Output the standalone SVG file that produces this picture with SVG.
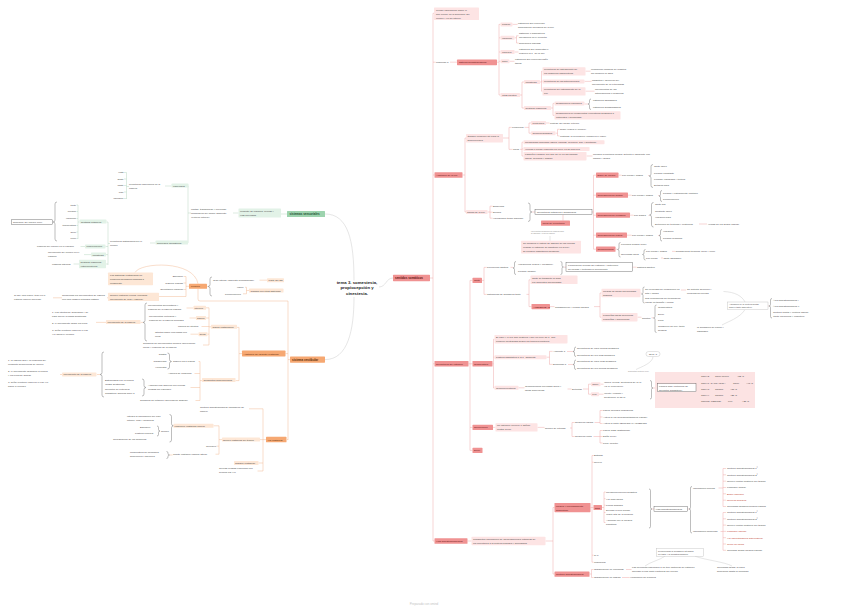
<svg xmlns="http://www.w3.org/2000/svg" width="848" height="610" viewBox="0 0 848 610">
<style>
text{font-family:"Liberation Sans",Arial,sans-serif;font-size:2.5px;fill:#444}
.w{font-weight:bold}
.L{font-size:3px;font-weight:bold}
.T{font-size:4.3px;font-weight:bold;fill:#222;text-anchor:middle}
.s{font-size:2.2px}
.xs{font-size:1.6px;fill:#888}
.m{text-anchor:middle}
.e{text-anchor:end}
.rb{fill:#f09292}
.rl{fill:#fde4e4}
.ob{fill:#f6a872}
.ol{fill:#fde7d6}
.gb{fill:#9dd3ae}
.gl{fill:#e2f2e7}
.bx{fill:#fff;stroke:#555;stroke-width:.4}
.bg{fill:#fff;stroke:#bbb;stroke-width:.4}
.tr{fill:#5c1010}
.to{fill:#5a2a08}
.tg{fill:#1a4d2e}
.rd{fill:#c0392b}
#conn path{fill:none;stroke-width:.45}
.cr{stroke:#eda3a3}
.co{stroke:#f2b68c}
.cg{stroke:#b2d5bd}
.ck{stroke:#c6c6c6}
.cd{stroke:#6d6d6d}
</style>
<rect width="848" height="610" fill="#fff"/>

<g id="conn">
<path class="ck" d="M325,214 C348,214 354,240 354,280.5"/>
<path class="ck" d="M325,359.6 C348,359.6 354,330 354,297"/>
<path class="ck" d="M379,287 C386,287 386,278 393,278"/>
<path class="cg" d="M287,214 H281 M238.5,213 H233 M191,213 H188 M188,186 V243 M188,186 H188.5 M171.5,186 H165 M129,186.5 H126.5 M126.5,172.5 V199 M124,172.5 H126.5 M124,179 H126.5 M124,185.5 H126.5 M124,192 H126.5 M124,198.5 H126.5 M155.5,243 H150 M110,243.5 H108 M108,222 V265 M106.5,222 H108 M105.5,246.5 H108 M106,254.6 H108 M106,264 H108 M78,205 V239 M79.5,222 H78 M76.5,205 H78 M76.5,211.5 H78 M76.5,218.5 H78 M76.5,225.5 H78 M76.5,232 H78 M76.5,238.5 H78 M80.5,246.5 H85 M84,254.6 H91 M73.5,264 H79"/>
<path class="cd" d="M57,202 Q55,202 55,204 V220 Q55,222 53,222 Q55,222 55,224 V239 Q55,241 57,241"/>
<path class="co" d="M290,359.6 H288 M288,301 V440 M285.5,353.6 H288 M287,439.6 H288 M288,301 H200 Q198,301 198,299 V288.8 M189,286.3 H186 M186,276.5 V296.5 H159 M183.5,276.5 H186 M183.5,283 H186 M183.5,289.5 H186 M207,286.5 H208 M259.5,280.2 H267 M245,287.3 H246.5 M243,293.8 H246.5 M246.5,287.3 V293.8 M246.5,290.5 H249 M107,297.8 H108 M53,297.8 H62"/>
<path class="co" d="M135,272.6 C140,262 194,260 198,283.8"/>
<path class="co" d="M242,353.6 H239 M239,327.4 V380.6 M237,327.4 H239 M235.5,380.6 H239 M211,326.8 H209 M209,307.8 V345 M206,307.8 H209 M206,318 H209 M201.5,326.5 H209 M207.5,334.2 H209 M203,345 H209 M186.5,308 H193.5 M189.5,318 H196 M190.5,334.2 H198.5 M143,322.4 H140.5 M96,322.4 H106"/>
<path class="co" d="M202,380.6 H200 M200,361.5 V400.5 M198.5,361.5 H200 M194.5,373.5 H200 M190.5,387.5 H200 M195.5,400.5 H200 M100,374.5 H97 M60,374.5 H62"/>
<path class="co" d="M266,439.6 H263 M263,408.8 V471 M249,408.8 H263 M259.5,439.6 H263 M258.5,463 H263 M257.5,471 H263 M222,439.6 H219 M219,425.8 V454.2 M213.5,425.8 H219 M216.5,446.2 H219 M215.5,454.2 H219 M169.5,455 H172.5"/>
<path class="cd" d="M212,277 Q210,277 210,279 V284.5 Q210,286.5 208,286.5 Q210,286.5 210,288.5 V294 Q210,296 212,296"/>
<path class="cd" d="M147,303 Q145,303 145,305 V320.4 Q145,322.4 143,322.4 Q145,322.4 145,324.4 V339 Q145,341 147,341"/>
<path class="cd" d="M167.5,353 Q169.5,353 169.5,355 V359.5 Q169.5,361.5 171.5,361.5 Q169.5,361.5 169.5,363.5 V367 Q169.5,369 167.5,369"/>
<path class="cd" d="M142,379 Q144,379 144,381 V385.5 Q144,387.5 146,387.5 Q144,387.5 144,389.5 V394 Q144,396 142,396"/>
<path class="cd" d="M104,352 Q102,352 102,354 V372.5 Q102,374.5 100,374.5 Q102,374.5 102,376.5 V395 Q102,397 104,397"/>
<path class="cd" d="M169.5,414.5 Q171.5,414.5 171.5,416.5 V423.8 Q171.5,425.8 173.5,425.8 Q171.5,425.8 171.5,427.8 V440 Q171.5,442 169.5,442"/>
<path class="cd" d="M157,426 Q158.5,426 158.5,427.5 V429.5 Q158.5,431 160,431 Q158.5,431 158.5,432.5 V434.5 Q158.5,436 157,436"/>
<path class="cd" d="M166.5,451.5 Q168,451.5 168,453 V453.5 Q168,455 169.5,455 Q168,455 168,456.5 V457 Q168,458.5 166.5,458.5"/>
<path class="cr" d="M430,278 H433 M433,13.3 V541 M433,13.3 H434 M433,62.2 H435.5 M433,175 H434.5 M433,363.8 H434.5 M433,541 H434.5 M450,62.2 H457 M497,62.2 H499 M499,24.2 V95 M499,24.4 H500.5 M499,37.8 H500.5 M499,52 H500.5 M499,61.3 H500.5 M499,95 H500.5 M512.5,24.4 H517.5 M514.5,37.8 H516.5 M516.5,35.8 V43 M516.5,35.8 H518.5 M516.5,43 H518.5 M514.5,52 H518.5 M509.5,61.3 H514.5 M520,95 H522 M522,82 V108 M522,82 H524 M522,108 H524 M540,82 H541.5 M541.5,71.2 V91.2 M541.5,71.2 H542.5 M541.5,81.4 H542.5 M541.5,91.2 H542.5 M585.5,71.2 H590.5 M584.5,81.4 H591.5 M585.5,91.2 H594.5 M551,108 H553 M553,103.4 V115.4 M553,103.4 H554.5 M553,115.4 H554.5 M584.5,104 H588"/>
<path class="cr" d="M462.5,175 H465 M465,138 V212 M465,138 H466 M465,212 H466 M503,138 H509 M509,127.4 V149.4 M509,127.4 H511.5 M509,149.4 H512.5 M524.5,127.4 H529 M529,123 V133.2 M529,123 H531 M529,133.2 H531 M546,123 H549.5 M555.5,133.2 H557.5 M557.5,129.3 V135.9 M557.5,129.3 H559.5 M557.5,135.9 H559.5 M520,149.4 H522 M522,142.2 V156 M522,142.2 H523.5 M522,149 H523.5 M522,156 H523.5 M586.5,156 H592.5"/>
<path class="cr" d="M487.5,212 H490 M490,206.2 V218.2 M490,206.2 H492.5 M490,212.2 H492.5 M490,218.2 H492.5 M532,212 H535 M563,214.8 V220.6 M592,212 H593.5 M593.5,175.2 V249.2 M593.5,175.2 H596 M593.5,195.2 H596 M593.5,215.2 H596 M593.5,235.2 H596 M593.5,249.2 H596 M618.5,175.2 H621.5 M648,175.5 H649 M628,195.2 H631.5 M658,195.5 H659 M630,215.2 H633.5 M648.5,215.5 H649.5 M699,224 H707 M627,235.2 H631.5 M658,235.5 H659 M615.5,249.2 H617.5 M672,251.4 H675 M661,258 H663"/>
<path class="ck" d="M550,236 V240.8"/>
<path class="cd" d="M528,203 Q530,203 530,205 V210 Q530,212 532,212 Q530,212 530,214 V219.5 Q530,221.5 528,221.5"/>
<path class="cd" d="M591,99 Q589.5,99 589.5,100.5 V102.5 Q589.5,104 588,104 Q589.5,104 589.5,105.5 V108 Q589.5,109.5 591,109.5"/>
<path class="cd" d="M653,164.5 Q651,164.5 651,166.5 V174 Q651,176 649,176 Q651,176 651,178 V185.5 Q651,187.5 653,187.5"/>
<path class="cd" d="M662,190.5 Q660.5,190.5 660.5,192 V194.5 Q660.5,196 659,196 Q660.5,196 660.5,197.5 V200 Q660.5,201.5 662,201.5"/>
<path class="cd" d="M653.5,202.5 Q651.5,202.5 651.5,204.5 V213 Q651.5,215 649.5,215 Q651.5,215 651.5,217 V225 Q651.5,227 653.5,227"/>
<path class="cd" d="M662,229.5 Q660.5,229.5 660.5,231 V234 Q660.5,235.5 659,235.5 Q660.5,235.5 660.5,237 V239.5 Q660.5,241 662,241"/>
<path class="cd" d="M620.5,242.5 Q619,242.5 619,244 V248 Q619,249.5 617.5,249.5 Q619,249.5 619,251 V255.5 Q619,257 620.5,257"/>
<path class="cd" d="M645.5,249.5 Q644,249.5 644,251 V253 Q644,254.5 642.5,254.5 Q644,254.5 644,256 V258.5 Q644,260 645.5,260"/>
<path class="cr" d="M468.5,363.8 H470 M470,280.4 V450.4 M470,280.4 H472.5 M470,363.8 H472.5 M470,427.4 H472.5 M470,450.4 H472.5 M482,280.4 H484 M484,267.4 V294.4 M484,267.4 H486.5 M484,294.4 H486.5 M510.5,267.4 H513 M564,267.2 H566 M632.5,267.2 H636.5 M526.5,294.4 H529 M529,279.8 V306.6 M529,279.8 H530.5 M529,306.6 H531.5 M550,306.6 H554.5 M594,306.6 H600 M600,293 V317.2 M600,293 H601.5 M600,317.2 H601.5 M640.5,293 H641.5 M681,290 H686 M637.5,317.2 H641.5 M651.5,317.8 H653.5 M768,306 H769"/>
<path class="cd" d="M516,261.5 Q514.5,261.5 514.5,263 V266.5 Q514.5,268 513,268 Q514.5,268 514.5,269.5 V273 Q514.5,274.5 516,274.5"/>
<path class="cd" d="M560.5,261.5 Q562,261.5 562,263 V265.5 Q562,267 563.5,267 Q562,267 562,268.5 V273 Q562,274.5 560.5,274.5"/>
<path class="cd" d="M644.5,287 Q643,287 643,288.5 V292.5 Q643,294 641.5,294 Q643,294 643,295.5 V301.5 Q643,303 644.5,303"/>
<path class="cd" d="M656.5,305 Q655,305 655,306.5 V316.5 Q655,318 653.5,318 Q655,318 655,319.5 V331 Q655,332.5 656.5,332.5"/>
<path class="cd" d="M772,298.5 Q770.5,298.5 770.5,300 V304.5 Q770.5,306 769,306 Q770.5,306 770.5,307.5 V316.5 Q770.5,318 772,318"/>
<path class="ck" d="M723.5,291.5 C735,292 742,296 745,302 M745,309.6 C740,318 727,322 722,325"/>
<path class="cr" d="M492.5,363.8 H493.5 M493.5,339.2 V388 M493.5,339.2 H494.5 M493.5,357.2 H494.5 M493.5,388 H494.5 M546.5,357.2 H549.5 M549.5,351.4 V364.4 M549.5,351.4 H552.5 M549.5,364.4 H552.5 M567,351.5 H573 M568,364.5 H573 M518.5,387.8 H524.5 M567.5,389 H571.5 M583,389 H588.5 M588.5,384.2 V394.2 M588.5,384.2 H591 M588.5,394.2 H591 M600.5,384.2 H603.5 M599,394.2 H603.5 M653,388 H657.5 M696,388 H697"/>
<path class="cd" d="M576,347 Q574.5,347 574.5,348.5 V350 Q574.5,351.5 573,351.5 Q574.5,351.5 574.5,353 V355 Q574.5,356.5 576,356.5"/>
<path class="cd" d="M576,360 Q574.5,360 574.5,361.5 V363 Q574.5,364.5 573,364.5 Q574.5,364.5 574.5,366 V368 Q574.5,369.5 576,369.5"/>
<path class="cd" d="M650,380.5 Q651.5,380.5 651.5,382 V386.5 Q651.5,388 653,388 Q651.5,388 651.5,389.5 V397.5 Q651.5,399 650,399"/>
<path class="cd" d="M700,373.5 Q698.5,373.5 698.5,375 V386.5 Q698.5,388 697,388 Q698.5,388 698.5,389.5 V402.5 Q698.5,404 700,404"/>
<path class="ck" d="M709,376.4 H714 M731,376.4 H736 M724,382.7 H732 M740.5,382.7 H745 M725,389 H729 M725,395.2 H729 M719,401.5 H727 M734,401.5 H741"/>
<path class="ck" d="M653,356.5 C653,363 641,367 636,369.5"/>
<path class="cr" d="M493,427.4 H495.5 M537.5,427.4 H544.5 M570,428 H572 M572,422.5 V436.5 M572,422.5 H574.5 M572,436.5 H574.5 M594.5,422.5 H600 M600,410.5 V423.5 M600,410.5 H602.5 M600,417 H602.5 M600,423.5 H602.5 M593.5,436.5 H600 M600,430.5 V443 M600,430.5 H602.5 M600,436.5 H602.5 M600,443 H602.5"/>
<path class="cr" d="M467.5,541 H471.5 M545.5,541 H553 M553,507.5 V574 M553,507.5 H554.5 M553,574 H554.5 M590.5,507.5 H592 M592,455.5 V562.3 M592,455.5 H593.5 M592,462.2 H593.5 M592,507.5 H593.5 M592,555.2 H593.5 M592,562.2 H593.5 M602,507.5 H604 M604,492 V522.5 M604,492 H605.5 M604,498.7 H605.5 M604,505.2 H605.5 M604,512.5 H605.5 M604,522.5 H605.5 M652,509 H654 M687.5,509 H689 M718.5,488 H723 M723,468.5 V506.5 M723,468.5 H726 M723,474.8 H726 M723,481.2 H726 M723,487.5 H726 M723,493.8 H726 M723,500.2 H726 M723,506.5 H726 M720.5,531.5 H723 M723,512.5 V550.3 M723,512.5 H726 M723,518.8 H726 M723,525.1 H726 M723,531.4 H726 M723,537.7 H726 M723,544 H726 M723,550.3 H726 M589.5,574 H591.5 M591.5,569.5 V577.5 M591.5,569.5 H593.5 M591.5,577.5 H593.5 M626,569.5 H631.5 M622,577.5 H629.5"/>
<path class="cd" d="M649,489 Q650.5,489 650.5,490.5 V507.5 Q650.5,509 652,509 Q650.5,509 650.5,510.5 V526.5 Q650.5,528 649,528"/>
<path class="cd" d="M692,486.5 Q690.5,486.5 690.5,488 V507.5 Q690.5,509 689,509 Q690.5,509 690.5,510.5 V531.5 Q690.5,533 692,533"/>
<path class="ck" d="M665,556.2 C660,560 650,562 645,566 M695,556.2 C705,560 725,562 732,566"/>
</g>

<g id="center"><text class="T" x="357" y="284.2">tema 3. somestesia,</text><text class="T" x="357" y="289.4">propiocepción y</text><text class="T" x="357" y="294.6">cinestesia.</text></g>

<g id="g-ss"><rect class="gb" x="287" y="211" width="38" height="6" rx=".6"/><text class="L tg" x="289.5" y="215.2">sistemas sensoriales</text></g>
<g id="g-conj"><rect class="gl" x="238.5" y="208.5" width="42.5" height="9" rx=".6"/><text x="240" y="211.5">conjunto de órganos, células y</text><text x="240" y="215.5">vías nerviosas</text></g>
<g id="g-captan"><text x="191" y="209.5">captan, transforman y procesan</text><text x="191" y="213.5">información del medio ambiente</text><text x="191" y="217.5">(exterior-interior)</text></g>
<g id="g-esp"><rect class="gl" x="171.5" y="183.6" width="17" height="4" rx=".6"/><text x="173" y="186.6">especiales</text></g>
<g id="g-gen"><rect class="gl" x="155.5" y="240.6" width="32.5" height="4" rx=".6"/><text x="157" y="243.6">generales (somáticos)</text></g>
<g id="g-rec1"><text x="129" y="185.3">receptores específicos en la</text><text x="129" y="189.3">cabeza</text></g>
<g id="g-vista"><text class="e" x="123.5" y="173.4">vista</text></g>
<g id="g-gusto"><text class="e" x="123.5" y="179.9">gusto</text></g>
<g id="g-olfato"><text class="e" x="123.5" y="186.4">olfato</text></g>
<g id="g-oido"><text class="e" x="123.5" y="192.9">oído</text></g>
<g id="g-equil"><text class="e" x="123.5" y="199.4">equilibrio</text></g>
<g id="g-rec2"><text x="110" y="242.4">receptores distribuidos por el</text><text x="110" y="246.4">cuerpo</text></g>
<g id="g-cut"><rect class="gl" x="79.5" y="219.6" width="27" height="4" rx=".6"/><text x="81" y="222.6">sentidos cutáneos</text></g>
<g id="g-tacto"><text class="e" x="76" y="205.9">tacto</text></g>
<g id="g-pres"><text class="e" x="76" y="212.4">presión</text></g>
<g id="g-vib"><text class="e" x="76" y="219.4">vibración</text></g>
<g id="g-temp"><text class="e" x="76" y="226.4">temperatura</text></g>
<g id="g-dolor"><text class="e" x="76" y="232.9">dolor</text></g>
<g id="g-picor"><text class="e" x="76" y="239.4">picor</text></g>
<g id="g-piel"><rect class="bx" x="11.5" y="219.8" width="41" height="4.6"/><text x="13" y="223">superficie del cuerpo (piel)</text></g>
<g id="g-pos"><text x="37" y="247.3">posición del cuerpo en el espacio</text></g>
<g id="g-prop"><rect class="gl" x="85" y="244.4" width="20.5" height="4" rx=".6"/><text x="86.5" y="247.4">propiocepción</text></g>
<g id="g-mov"><text x="48" y="253.4">movimiento del cuerpo en el</text><text x="48" y="257.4">espacio</text></g>
<g id="g-cin"><rect class="gl" x="91" y="252.6" width="15" height="4" rx=".6"/><text x="92.5" y="255.6">cinestesia</text></g>
<g id="g-orgi"><text x="52" y="265">órganos internos</text></g>
<g id="g-so"><rect class="gl" x="79" y="259.8" width="27" height="8.4" rx=".6"/><text x="80.5" y="262.8">sentidos orgánicos</text><text x="80.5" y="266.8">(interoceptivos)</text></g>

<g id="o-sv"><rect class="ob" x="290" y="356.5" width="35" height="6.2" rx=".6"/><text class="L to" x="292" y="360.7">sistema vestibular</text></g>
<g id="o-fun"><rect class="ob" x="189" y="283.8" width="18" height="5" rx=".6"/><text class="to" x="191" y="287.3">Función</text></g>
<g id="o-eq"><text class="e" x="183" y="277.3">Equilibrio</text></g>
<g id="o-ce"><text class="e" x="183" y="283.8">Cabeza erguida</text></g>
<g id="o-oe"><text class="e" x="183" y="290.3">Orientación espacial</text></g>
<g id="o-note"><rect class="ol" x="108" y="272.6" width="45" height="12.6" rx=".6"/><text x="110" y="275.8">Los sistemas vestibulares no</text><text x="110" y="279.8">producen sensación definida a</text><text x="110" y="283.8">consciente</text></g>
<g id="o-oido"><text x="213" y="281">Oído interno (laberinto membranoso)</text></g>
<g id="o-parte"><rect class="ol" x="267" y="278.3" width="17" height="4" rx=".6"/><text x="268.5" y="281.3">Parte del SN</text></g>
<g id="o-vis"><text x="237" y="288.2">visión</text></g>
<g id="o-prop"><text x="225" y="294.7">Propiocepción</text></g>
<g id="o-trab"><rect class="ol" x="249" y="288.6" width="34.5" height="4" rx=".6"/><text x="250.5" y="291.6">Trabaja con otros sistemas</text></g>
<g id="o-refl"><rect class="ol" x="108" y="292.8" width="51" height="8.2" rx=".6"/><text x="110" y="295.8">Reflejo vestíbulo-ocular (coordina</text><text x="110" y="299.8">movimiento de ojos y cabeza)</text></g>
<g id="o-comp"><text x="62" y="295.8">Compensa los movimientos de cabeza</text><text x="62" y="299.8">con una imagen retiniana estable</text></g>
<g id="o-lesion"><text x="14" y="295.8">Si hay una lesión, todo en el</text><text x="14" y="299.8">entorno parece moverse</text></g>

<g id="o-anat"><rect class="ob" x="242" y="350.6" width="43.5" height="5.8" rx=".6"/><text class="to" x="243.5" y="354.5">Anatomía del aparato vestibular</text></g>
<g id="o-sacos"><rect class="ol" x="211" y="324.8" width="26" height="4" rx=".6"/><text x="212.5" y="327.8">Sacos vestibulares</text></g>
<g id="o-utr"><rect class="ol" x="193.5" y="305.8" width="12.5" height="4" rx=".6"/><text x="194.5" y="308.8">Utrículo</text></g>
<g id="o-sac"><rect class="ol" x="196" y="316" width="10" height="4" rx=".6"/><text x="197" y="319">Sáculo</text></g>
<g id="o-mac"><text x="178" y="327.3">Mácula de otolitos</text></g>
<g id="o-cil"><rect class="ol" x="198.5" y="332.2" width="9" height="4" rx=".6"/><text x="199.5" y="335.2">Cilios</text></g>
<g id="o-sens"><text x="143" y="344.3">Sensores de movimientos lineales (aceleración</text><text x="143" y="348.3">lineal) y posición de la cabeza</text></g>
<g id="o-mh"><text x="148" y="306.3">Movimientos horizontales y</text><text x="148" y="310.3">posición de la cabeza erguida</text></g>
<g id="o-mv"><text x="149" y="316.8">Movimientos verticales y</text><text x="149" y="320.8">posición de la cabeza inclinada</text></g>
<g id="o-ot"><text x="155" y="333.2">Otolitos sobre una masa con</text><text x="155" y="337.2">cilios</text></g>
<g id="o-mdc1"><rect class="ol" x="106" y="320" width="34.5" height="4" rx=".6"/><text x="107.5" y="323">Movimiento de la cabeza</text></g>
<g id="o-list1"><text x="52" y="313">1. Los otolitos se desplazan y se</text><text x="52" y="317">para mover la masa gelatinosa</text><text x="52" y="324">2. el movimiento dobla los cilios</text><text x="52" y="331">3. señal eléctrica viaja por el par</text><text x="52" y="335">VIII hacia el cerebro</text></g>
<g id="o-cond"><rect class="ol" x="202" y="378" width="33.5" height="4" rx=".6"/><text x="203.5" y="381">Conductos semicirculares</text></g>
<g id="o-sig"><text x="173" y="362.4">Siguen los 3 planos</text></g>
<g id="o-sagi"><text class="e" x="166.5" y="355.3">Sagital</text></g>
<g id="o-trans"><text class="e" x="166.5" y="361.8">Transversal</text></g>
<g id="o-hori"><text class="e" x="166.5" y="368.3">Horizontal</text></g>
<g id="o-amp"><text x="168" y="374.4">Ampolla de endolinfa</text></g>
<g id="o-anal"><text x="148" y="386.4">Analizan una ampolla con células</text><text x="148" y="390.4">ciliadas del equilibrio</text></g>
<g id="o-est"><text x="105" y="381.3">Estimulados por la cúpula</text><text x="105" y="385.3">(masa gelatinosa)</text></g>
<g id="o-trpa"><text x="105" y="390.3">Receptor de Potencial</text><text x="105" y="394.3">Transitorio ankirina TRPA1</text></g>
<g id="o-rot"><text x="140" y="401.4">Sensores de rotación (aceleración angular)</text></g>
<g id="o-mdc2"><rect class="ol" x="62" y="372.4" width="34.5" height="4" rx=".6"/><text x="63.5" y="375.4">Movimiento de la cabeza</text></g>
<g id="o-list2"><text x="8" y="361.3">1. la cabeza gira y la endolinfa del</text><text x="8" y="365.3">conducto semicircular se mueve</text><text x="8" y="372.3">2. el movimiento desplaza la cúpula</text><text x="8" y="376.3">y los cilios se doblan</text><text x="8" y="383.3">3. señal eléctrica viaja por el par VIII</text><text x="8" y="387.3">hacia el cerebro</text></g>

<g id="o-via"><rect class="ob" x="266" y="436.8" width="20.5" height="5.5" rx=".6"/><text class="to" x="267.5" y="440.5">Vía vestibular</text></g>
<g id="o-cort"><text x="200" y="408">Corteza somatosensorial (sensación de</text><text x="200" y="412">mareo)</text></g>
<g id="o-nuc"><rect class="ol" x="222" y="437.6" width="38" height="4" rx=".6"/><text x="223" y="440.6">Núcleo vestibular del tronco</text></g>
<g id="o-gang"><rect class="ol" x="234" y="461" width="24.5" height="4" rx=".6"/><text x="235" y="464">Ganglio vestibular</text></g>
<g id="o-cel"><text x="219" y="469">Células ciliadas empiezan con</text><text x="219" y="473">axones par VIII</text></g>
<g id="o-fasc"><rect class="ol" x="173.5" y="423.8" width="40" height="4" rx=".6"/><text x="174.5" y="426.8">Fascículo vestibular inferior</text></g>
<g id="o-cereb"><text x="206" y="447.1">Cerebelo</text></g>
<g id="o-tract"><text x="173" y="455.1">Tracto vestíbulo-espinal lateral</text></g>
<g id="o-integ"><text x="127" y="417.4">Integra la información del oído</text><text x="127" y="421.4">interno, ojos y músculos</text></g>
<g id="o-eq2"><text x="140" y="428.2">Equilibrio</text></g>
<g id="o-post"><text x="135" y="434.2">Postura corporal</text></g>
<g id="o-reflj"><text x="161" y="431.9">Reflejo</text></g>
<g id="o-coord"><text x="113" y="440.3">Coordinación de los músculos</text></g>
<g id="o-musc"><text x="130" y="453.3">Musculatura de miembros</text><text x="130" y="457.3">superiores e inferiores</text></g>

<g id="r-ss"><rect class="rb" x="393" y="274.8" width="37" height="6.4" rx=".6"/><text class="L tr" x="395" y="279.1">sentidos somáticos</text></g>
<g id="r-recoge"><rect class="rl" x="434" y="7.4" width="45" height="12.6" rx=".6"/><text x="436" y="10.6">recoge información sobre lo</text><text x="436" y="14.6">que ocurre en la superficie del</text><text x="436" y="18.6">cuerpo y en su interior</text></g>
<g id="r-resp"><text x="436" y="63">responde a</text></g>
<g id="r-sis"><rect class="rb" x="457" y="59.6" width="40" height="5.6" rx=".6"/><text class="tr" x="459" y="63.4">sistema somatosensorial</text></g>
<g id="r-presion"><rect class="rl" x="500.5" y="22.4" width="12" height="4" rx=".6"/><text x="502" y="25.4">presión</text></g>
<g id="r-st1"><text x="518" y="24.2">estímulos que provocan</text><text x="518" y="28.2">deformación mecánica de la piel</text></g>
<g id="r-vibr"><rect class="rl" x="500.5" y="35.8" width="14" height="4" rx=".6"/><text x="502" y="38.8">vibración</text></g>
<g id="r-st2"><text x="519" y="33.8">agitación o dispositivos</text><text x="519" y="37.8">mecánicos en el receptor</text></g>
<g id="r-sup"><text x="519" y="44">superficies rugosas</text></g>
<g id="r-calor"><rect class="rl" x="500.5" y="50" width="14" height="4" rx=".6"/><text x="502" y="53">calor/frío</text></g>
<g id="r-st3"><text x="519" y="50.2">estímulos que aumentan o</text><text x="519" y="54.2">reducen la T° de la piel</text></g>
<g id="r-dolor"><rect class="rl" x="500.5" y="59.3" width="9" height="4" rx=".6"/><text x="502" y="62.3">dolor</text></g>
<g id="r-st4"><text x="515" y="60.2">estímulos que provocan daño</text><text x="515" y="64.2">tisular</text></g>
<g id="r-otras"><rect class="rl" x="500.5" y="93" width="19.5" height="4" rx=".6"/><text x="502" y="96">otras fuentes</text></g>
<g id="r-cin"><rect class="rl" x="524" y="80" width="16" height="4" rx=".6"/><text x="525.5" y="83">cinestesia</text></g>
<g id="r-so"><rect class="rl" x="524" y="106" width="27" height="4" rx=".6"/><text x="525.5" y="109">sentidos orgánicos</text></g>
<g id="r-re1"><rect class="rl" x="542.5" y="67.2" width="43" height="8.4" rx=".6"/><text x="544" y="70.2">receptores de estiramiento de</text><text x="544" y="74.2">los músculos esqueléticos</text></g>
<g id="r-c1"><text x="591" y="70.2">comunican cambios de longitud</text><text x="591" y="74.2">del músculo al SNC</text></g>
<g id="r-re2"><rect class="rl" x="542.5" y="79.4" width="42" height="4" rx=".6"/><text x="544" y="82.4">receptores de las articulaciones</text></g>
<g id="r-c2"><text x="592" y="80.6">magnitud y dirección del</text><text x="592" y="84.6">movimiento de la extremidad</text></g>
<g id="r-re3"><rect class="rl" x="542.5" y="87.2" width="43" height="8.4" rx=".6"/><text x="544" y="90.2">receptores del estiramiento de la</text><text x="544" y="94.2">piel</text></g>
<g id="r-c3"><text x="595" y="90.2">movimientos de las</text><text x="595" y="94.2">articulaciones o músculos</text></g>
<g id="r-sv"><rect class="rl" x="554.5" y="101.4" width="30" height="4" rx=".6"/><text x="556" y="104.4">sensaciones viscerales</text></g>
<g id="r-ea"><text x="593" y="101.4">estímulos agradables</text></g>
<g id="r-ed"><text x="593" y="108">estímulos desagradables</text></g>
<g id="r-snc"><rect class="rl" x="554.5" y="111.2" width="66" height="8.4" rx=".6"/><text x="556" y="114.2">sensaciones no conscientes (receptores sensibles a</text><text x="556" y="118.2">nutrientes y hormonas)</text></g>

<g id="r-anat"><rect class="rb" x="434.5" y="172.2" width="28" height="5.6" rx=".6"/><text class="tr" x="436" y="176">Anatomía de la piel</text></g>
<g id="r-org"><rect class="rl" x="466" y="134" width="37" height="8.4" rx=".6"/><text x="467.5" y="137">Órgano complejo útil para la</text><text x="467.5" y="141">supervivencia</text></g>
<g id="r-fun"><text x="512" y="128.3">Funciones</text></g>
<g id="r-tipos"><text x="513" y="150.3">Tipos</text></g>
<g id="r-prot"><rect class="rl" x="531" y="121" width="15" height="4" rx=".6"/><text x="532.5" y="124">Protectora</text></g>
<g id="r-pmed"><text x="550" y="124">protege del medio externo</text></g>
<g id="r-term"><rect class="rl" x="531" y="131.2" width="24.5" height="4" rx=".6"/><text x="532.5" y="134.2">Termorreguladora</text></g>
<g id="r-sud"><text x="560" y="130.2">sudor (enfría el cuerpo)</text></g>
<g id="r-restr"><text x="560" y="136.8">restringe la circulación (conserva el calor)</text></g>
<g id="r-mem"><rect class="rl" x="523.5" y="140.2" width="81" height="4" rx=".6"/><text x="525" y="143.2">Membranas mucosas (labios, narinas, pezones, ano y genitales)</text></g>
<g id="r-vel"><rect class="rl" x="523.5" y="147" width="66" height="4" rx=".6"/><text x="525" y="150">Vellosa o pilosa (cubierta por pelo) en su mayoría</text></g>
<g id="r-lam"><rect class="rl" x="523.5" y="152" width="63" height="8.4" rx=".6"/><text x="525" y="155">Lampiña o glabra: piel que se ve en las palmas,</text><text x="525" y="159">labios, pezones y glande</text></g>
<g id="r-much"><text x="593" y="155">Muchos receptores porque detecta el ambiente con</text><text x="593" y="159">manos y dedos</text></g>

<g id="r-capas"><rect class="rl" x="466" y="210" width="21.5" height="4" rx=".6"/><text x="467" y="213">Capas de la piel</text></g>
<g id="r-epi"><text x="493" y="207.1">Epidermis</text></g>
<g id="r-der"><text x="493" y="213.1">Dermis</text></g>
<g id="r-hip"><text x="493" y="219.1">Hipodermis (tejido adiposo)</text></g>
<g id="r-rcs"><rect class="bx" x="535" y="209.4" width="57" height="5.4"/><text x="537" y="213.1">Receptores cutáneos o sensoriales</text></g>
<g id="r-tiporec"><rect class="rb" x="541" y="220.6" width="29" height="5.2" rx=".6"/><text class="tr" x="542.5" y="224.2">Tipos de receptores</text></g>
<g id="r-tiny"><text class="xs" x="531" y="231.6">Los receptores sensoriales se clasifican según</text><text class="xs" x="531" y="234.4">su estructura y el tipo de estímulo</text></g>
<g id="r-adapt"><rect class="rl" x="521" y="240.8" width="60" height="12.6" rx=".6"/><text x="523" y="244">Se modifica el patrón de disparo de las células</text><text x="523" y="248">cuando el estímulo se mantiene en la piel,</text><text x="523" y="252">se produce adaptación sensorial</text></g>
<g id="r-merk"><rect class="rb" x="596" y="172.6" width="22.5" height="5.2" rx=".6"/><text class="tr" x="597.5" y="176.2">Disco de Merkel</text></g>
<g id="r-pp1"><text x="622" y="176.2">Piel pilosa y glabra</text></g>
<g id="r-m1"><text x="654" y="167.3">Tacto ligero</text><text x="654" y="173.7">Presión constante</text><text x="654" y="180">Formas, rugosidad y textura</text><text x="654" y="186.3">Detalles finos</text></g>
<g id="r-ruff"><rect class="rb" x="596" y="192.6" width="32" height="5.2" rx=".6"/><text class="tr" x="597.5" y="196.2">Corpúsculos de Ruffini</text></g>
<g id="r-pp2"><text x="632" y="196.2">Piel pilosa y glabra</text></g>
<g id="r-r1"><text x="663" y="193.6">Presión y estiramiento continuo</text><text x="663" y="199.8">Propiocepción</text></g>
<g id="r-meis"><rect class="rb" x="596" y="212.6" width="34" height="5.2" rx=".6"/><text class="tr" x="597.5" y="216.2">Corpúsculos de Meissner</text></g>
<g id="r-pg"><text x="634" y="216.2">Piel glabra</text></g>
<g id="r-me1"><text x="655" y="205.3">Tacto fino</text><text x="655" y="211.8">Contacto ligero</text><text x="655" y="218.3">Vibración baja</text><text x="655" y="224.8">Detección de texturas y contornos</text></g>
<g id="r-yemas"><text x="708" y="224.8">yemas de los dedos (labios)</text></g>
<g id="r-paci"><rect class="rb" x="596" y="232.6" width="31" height="5.2" rx=".6"/><text class="tr" x="597.5" y="236.2">Corpúsculos de Pacini</text></g>
<g id="r-pp3"><text x="632" y="236.2">Piel pilosa y glabra</text></g>
<g id="r-pa1"><text x="663" y="232.3">Vibración</text><text x="663" y="239">Presión profunda</text></g>
<g id="r-termi"><rect class="rb" x="596" y="246.6" width="19.5" height="5.2" rx=".6"/><text class="tr" x="597.5" y="250.2">Terminaciones</text></g>
<g id="r-fol"><text x="621" y="245.3">Folículos pilosos (pelo)</text></g>
<g id="r-nl"><text x="621" y="255.3">Nerviosas libres</text></g>
<g id="r-pp4"><text x="646" y="252.3">Piel pilosa y glabra</text><text x="675.5" y="252.3">Sensaciones térmicas, dolor y picor</text></g>
<g id="r-pp5"><text x="646" y="258.8">Piel pilosa</text><text x="663.5" y="258.8">Tacto agradable</text></g>

<g id="r-tacto"><rect class="rb" x="472.5" y="277.8" width="9.5" height="5.2" rx=".6"/><text class="tr" x="474" y="281.4">Tacto</text></g>
<g id="r-ph"><text x="487" y="268.3">Percepción háptica</text></g>
<g id="r-vibs"><text x="518" y="265.3">Vibraciones (Pacini y Meissner)</text><text x="518" y="272">Presión (Ruffini)</text></g>
<g id="r-loc"><rect class="bx" x="566" y="262.6" width="66.5" height="8.8"/><text x="568" y="265.8">Localización precisa del estímulo y detección</text><text x="568" y="269.8">de formas y texturas en movimiento</text></g>
<g id="r-hap"><text x="637" y="268.1">Sistema háptico</text></g>
<g id="r-cat"><text x="487" y="295.3">Categorías de sensación táctil</text></g>
<g id="r-tsm"><rect class="rl" x="530.5" y="275.6" width="47" height="8.4" rx=".6"/><text x="532" y="278.6">Tacto se transmite al SNC</text><text x="532" y="282.6">por aferentes mielinizadas</text></g>
<g id="r-afer"><rect class="rb" x="531.5" y="304" width="18.5" height="5.2" rx=".6"/><text class="tr" x="533" y="307.6">AFERENTE Aβ</text></g>
<g id="r-transd"><text x="555" y="307.6">Transducción y pulsos rápidos</text></g>
<g id="r-med"><rect class="rl" x="601.5" y="288.8" width="39" height="8.4" rx=".6"/><text x="603" y="291.8">Medida de fibras mielinizadas</text><text x="603" y="295.8">grandes</text></g>
<g id="r-su1"><text x="645" y="289.5">Su velocidad de conducción es</text><text x="645" y="293.5">alta y rápida</text></g>
<g id="r-sedet"><text x="687" y="289.5">Se detecta dirección y</text><text x="687" y="293.5">localización precisa</text></g>
<g id="r-su2"><text x="645" y="298.5">Sus corpúsculos de terminación</text><text x="645" y="302.5">varían en tamaño y forma</text></g>
<g id="r-peq"><rect class="rl" x="601.5" y="313" width="36" height="8.4" rx=".6"/><text x="603" y="316">Pequeñas fibras mielínicas</text><text x="603" y="320">pequeñas y amielínicas</text></g>
<g id="r-sien"><text x="642" y="318.8">Sienten</text></g>
<g id="r-sien-items"><text x="658" y="308.3">Temperatura</text><text x="658" y="314.8">Dolor</text><text x="658" y="321.3">Picor</text><text x="658" y="327.3">Cosquilleo de piel, tacto</text><text x="658" y="331.3">sensual</text></g>
<g id="r-act"><rect class="bg" x="727.5" y="302" width="40.5" height="7.6"/><text class="s" x="729" y="305">Activación de la corteza frontal</text><text class="s" x="729" y="308.4">para el tacto placentero</text></g>
<g id="r-area"><text x="773" y="301.3">Área somatosensorial I</text><text x="773" y="307.3">Área somatosensorial II</text><text x="773" y="313">Corteza frontal y corteza insular</text><text x="773" y="316.6">(tacto emocional y cognitivo)</text></g>
<g id="r-plac"><text x="697" y="327.5">la sensación de placer y</text><text x="697" y="331.5">agradable</text></g>

<g id="r-rde"><rect class="rb" x="434.5" y="361" width="34" height="5.6" rx=".6"/><text class="tr" x="436" y="364.8">Receptores del estímulo</text></g>
<g id="r-temp"><rect class="rb" x="472.5" y="361" width="20" height="5.6" rx=".6"/><text class="tr" x="474" y="364.8">Temperatura</text></g>
<g id="r-calfr"><rect class="rl" x="494.5" y="335" width="73" height="8.4" rx=".6"/><text x="496" y="338">El calor y el frío son relativos y hay un nivel de T° que</text><text x="496" y="342">produce neutralidad según los termorreceptores</text></g>
<g id="r-post"><rect class="rl" x="494.5" y="355.2" width="52" height="4" rx=".6"/><text x="496" y="358.2">Postura adaptativa a la T° ambiente</text></g>
<g id="r-aum"><text x="553" y="352.3">Aumento T°</text></g>
<g id="r-desc"><text x="553" y="365.3">Descenso T°</text></g>
<g id="r-a1"><text x="577" y="349.3">Receptores de calor menos sensibles</text><text x="577" y="355.6">Receptores del frío más sensibles</text></g>
<g id="r-d1"><text x="577" y="362.3">Receptores de calor más sensibles</text><text x="577" y="368.6">Receptores del frío menos sensibles</text></g>
<g id="r-tr"><rect class="rl" x="494.5" y="385.8" width="24" height="4" rx=".6"/><text x="496" y="388.8">Termorreceptores</text></g>
<g id="r-tnl"><text x="525" y="387.2">Terminaciones nerviosas libres y</text><text x="525" y="391.2">fibras amielínicas</text></g>
<g id="r-det"><text x="572" y="389.9">Detectan</text></g>
<g id="r-cal"><rect class="rl" x="591" y="382.2" width="9.5" height="4" rx=".6"/><text x="592.3" y="385.2">Calor</text></g>
<g id="r-fri"><rect class="rl" x="591" y="392.2" width="8" height="4" rx=".6"/><text x="592.3" y="395.2">Frío</text></g>
<g id="r-ca"><text class="s" x="604" y="383.2">(ácidos, cremas, anestésicos 30-45°C)</text><text class="s" x="604" y="386.8">(45°C: nocicepción)</text></g>
<g id="r-fr"><text class="s" x="604" y="394.2">(mentol, eucalipto y</text><text class="s" x="604" y="397.8">anestésicos, 10-25°C)</text></g>
<g id="r-panel"><rect x="655" y="372" width="100" height="36" fill="#fce3e3"/></g>
<g id="r-trp"><rect class="bx" x="657.5" y="383.8" width="38.5" height="8"/><text x="659" y="386.9">Familia TRP (Potencial de</text><text x="659" y="390.7">Receptor Transitorio)</text></g>
<g id="r-trpv2"><text x="701" y="377.3">TRPV2</text><text x="715" y="377.3">Calor nocivo</text><text x="737" y="377.3">&gt;52°C</text></g>
<g id="r-trpv1"><text x="701" y="383.6">TRPV1, CAPSAICINA</text><text x="733" y="383.6">Calor</text><text x="746" y="383.6">&gt;43°C</text></g>
<g id="r-trpv3"><text x="701" y="389.9">TRPV3</text><text x="715" y="389.9">Calidez</text><text x="730" y="389.9">&gt;33°C</text></g>
<g id="r-trpv4"><text x="701" y="396.1">TRPV4</text><text x="715" y="396.1">Calidez</text><text x="730" y="396.1">&gt;25°C</text></g>
<g id="r-trpm8"><text x="701" y="402.4">TRPM8, MENTOL</text><text x="728" y="402.4">Frío</text><text x="742" y="402.4">&lt;28°C</text></g>
<g id="r-bubble"><rect class="bg" x="646" y="351.5" width="14" height="5" rx="2.5"/><text class="s m" x="653" y="354.8">32-34°C</text></g>
<g id="r-tiny2"><text class="xs" x="628" y="371.6">Temperatura neutra de la piel</text></g>

<g id="r-noc"><rect class="rb" x="472.5" y="424.8" width="20.5" height="5.2" rx=".6"/><text class="tr" x="474" y="428.4">Nocicepción</text></g>
<g id="r-une"><rect class="rl" x="495.5" y="423.2" width="42" height="8.4" rx=".6"/><text x="497" y="426.2">Un estímulo (nocivo) o dañino</text><text x="497" y="430.2">contra la piel</text></g>
<g id="r-refr"><text x="545" y="428.8">Reflejo de retirada</text></g>
<g id="r-rr"><text x="575" y="423.3">Reacción rápida</text></g>
<g id="r-rl"><text x="575" y="437.3">Reacción lenta</text></g>
<g id="r-rr-items"><text x="603" y="411.3">Libera opioides endógenos</text><text x="603" y="417.8">Activa la vía neoespinotalámica (rápido)</text><text x="603" y="424.3">Activa la parte TEMPORAL/ANTERIOR</text></g>
<g id="r-rl-items"><text x="603" y="431.3">Libera PGE (sustancias)</text><text x="603" y="437.3">Daña la piel</text><text x="603" y="443.8">Picor (prurito)</text></g>
<g id="r-dol"><rect class="rb" x="472.5" y="447.8" width="10" height="5.2" rx=".6"/><text class="tr" x="474" y="451.4">Dolor</text></g>

<g id="r-vso"><rect class="rb" x="434.5" y="538.2" width="33" height="5.6" rx=".6"/><text class="tr" x="436" y="542">Vías somatosensoriales</text></g>
<g id="r-tra"><rect class="rl" x="471.5" y="536.8" width="74" height="8.4" rx=".6"/><text x="473" y="539.8">Transmiten información de las sensaciones cutáneas de</text><text x="473" y="543.8">los receptores a la corteza primaria y secundaria</text></g>
<g id="r-medu"><rect class="rb" x="554.5" y="503" width="36" height="9.2" rx=".6"/><text class="tr" x="556" y="506.6">Médula y procesamiento</text><text class="tr" x="556" y="510.6">subcortical</text></g>
<g id="r-cso"><rect class="rb" x="554.5" y="571.4" width="35" height="5.4" rx=".6"/><text class="tr" x="556" y="575.1">Corteza somatosensorial</text></g>
<g id="r-ent"><text x="594" y="456.3">Entrada</text></g>
<g id="r-rel"><text x="594" y="463">Relevo</text></g>
<g id="r-scd"><rect class="rb" x="593.5" y="505" width="8.5" height="5" rx=".6"/><text class="tr" x="594.7" y="508.5">SCD</text></g>
<g id="r-sal"><text x="594" y="556">SAL</text></g>
<g id="r-tri"><text x="594" y="563">Trigeminal</text></g>
<g id="r-scd-items"><text x="606" y="492.8">Mecanorrecepción sensitiva</text><text x="606" y="499.5">Vía más rápida</text><text x="606" y="506">Pocas sinapsis</text><text x="606" y="511.3">Decusa a nivel bulbar</text><text x="606" y="515.3">(parte alta de la médula)</text><text x="606" y="521.3">Asciende por la médula</text><text x="606" y="525.3">ipsilateral</text></g>
<g id="r-vsbox"><rect class="bx" x="654" y="506.2" width="33.5" height="5.5"/><text x="655.5" y="509.9">Vías somatosensoriales</text></g>
<g id="r-ip"><text x="693" y="488.8">Información precisa</text></g>
<g id="r-ii"><text x="693" y="532.3">Información imprecisa</text></g>
<g id="r-l1"><text x="727" y="469.3">Corteza somatosensorial 1ª</text><text x="727" y="475.6">Corteza somatosensorial 2ª</text><text x="727" y="482">Núcleo ventral posterior del tálamo</text><text x="727" y="488.3">Lemnisco medial</text><text class="rd" x="727" y="494.6">Bulbo raquídeo</text><text class="rd" x="727" y="501">Núcleos bulbares</text><text x="727" y="507.3">Columnas dorsales médula espinal</text></g>
<g id="r-l2"><text x="727" y="513.3">Corteza somatosensorial 1ª</text><text x="727" y="519.6">Corteza somatosensorial 2ª</text><text x="727" y="525.9">Núcleo ventral posterior del tálamo</text><text class="rd" x="727" y="532.2">Lemnisco espinal</text><text class="rd" x="727" y="538.5">Vía espinotalámica anterolateral</text><text class="rd" x="727" y="544.8">Cruce de fibras</text><text x="727" y="551.1">Columna dorsal médula espinal</text></g>
<g id="r-prop"><rect class="bg" x="656.5" y="548.6" width="47" height="7.6"/><text class="s" x="658" y="551.6">Proporcionan la sensación integrada</text><text class="s" x="658" y="555.2">del tacto y la somatosensación</text></g>
<g id="r-oc"><text x="594" y="570.3">Organización en columnas</text></g>
<g id="r-las"><text x="632" y="568.3">Las neuronas responden a un tipo particular de estímulo</text><text x="632" y="572.3">aplicado a una parte particular del cuerpo</text></g>
<g id="r-col"><text x="717" y="568.3">Columnas desde la capa</text><text x="717" y="572.3">superficial hasta la profunda</text></g>
<g id="r-om"><text x="594" y="578.3">Organización en mapas</text></g>
<g id="r-hom"><text x="630" y="578.3">Homúnculo de Penfield</text></g>

<g id="footer"><text x="424" y="605" text-anchor="middle" style="font-size:3px;fill:#c4c4c4">Preparado con xmind</text></g>
</svg>
